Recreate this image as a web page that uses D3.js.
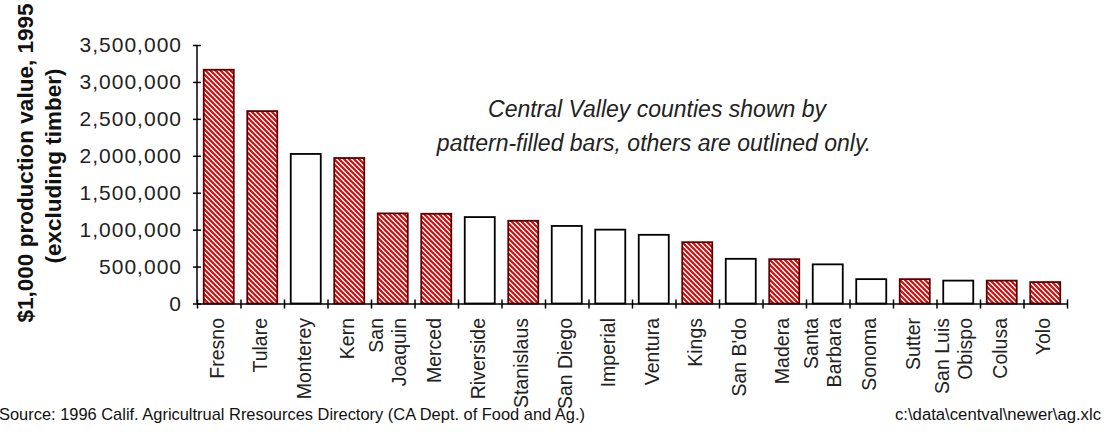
<!DOCTYPE html>
<html>
<head>
<meta charset="utf-8">
<script src="https://cdn.jsdelivr.net/npm/d3@7"></script>
<style>
  body { margin: 0; background: #fff; }
  svg { display: block; font-family: Arial, "Liberation Sans", sans-serif; }
</style>
</head>
<body>
<div id="container"></div>
<script>
const width = 1104;
const height = 432;

// counties, sorted by 1995 production value ($1,000)
const counties = ['Fresno', 'Tulare', 'Monterey', 'Kern', 'San Joaquin', 'Merced', 'Riverside',
  'Stanislaus', 'San Diego', 'Imperial', 'Ventura', 'Kings', "San B'do", 'Madera',
  'Santa Barbara', 'Sonoma', 'Sutter', 'San Luis Obispo', 'Colusa', 'Yolo'];
const values = [3165000, 2605000, 2025000, 1970000, 1220000, 1215000, 1170000,
  1120000, 1050000, 1000000, 930000, 830000, 605000, 600000,
  530000, 330000, 330000, 310000, 310000, 290000];
const centralValley = ['Fresno', 'Tulare', 'Kern', 'San Joaquin', 'Merced', 'Stanislaus',
  'Kings', 'Madera', 'Sutter', 'Colusa', 'Yolo'];
const labelLines = {
  'San Joaquin': ['San', 'Joaquin'],
  'Santa Barbara': ['Santa', 'Barbara'],
  'San Luis Obispo': ['San Luis', 'Obispo']
};
const yTicks = [0, 500000, 1000000, 1500000, 2000000, 2500000, 3000000, 3500000];

const plot = {left: 197, right: 1067, top: 45, bottom: 303.5};

const svg = d3.select('#container').append('svg')
  .attr('width', width)
  .attr('height', height)
  .attr('viewBox', [0, 0, width, height]);

// diagonal hatch for Central Valley counties
const pattern = svg.append('defs').append('pattern')
  .attr('id', 'hatch')
  .attr('patternUnits', 'userSpaceOnUse')
  .attr('width', 5)
  .attr('height', 5);
pattern.append('rect').attr('width', 5).attr('height', 5).attr('fill', '#fff');
pattern.append('path')
  .attr('d', 'M-1,-1L6,6M-1,4L1,6M4,-1L6,1')
  .attr('stroke', '#e00000')
  .attr('stroke-width', 2);

const x = d3.scaleBand()
  .domain(counties)
  .range([plot.left, plot.right])
  .paddingInner(0.31)
  .paddingOuter(0.155);

const y = d3.scaleLinear()
  .domain([0, 3500000])
  .range([plot.bottom, plot.top]);

// bars
svg.append('g')
  .selectAll('rect')
  .data(counties)
  .join('rect')
  .attr('x', d => x(d))
  .attr('y', (d, i) => y(values[i]))
  .attr('width', x.bandwidth())
  .attr('height', (d, i) => y(0) - y(values[i]))
  .attr('fill', d => centralValley.includes(d) ? 'url(#hatch)' : '#fff')
  .attr('stroke', d => centralValley.includes(d) ? '#5a0000' : '#000')
  .attr('stroke-width', 1.8);

// y axis
const yAxis = svg.append('g')
  .attr('transform', `translate(${plot.left},0)`)
  .call(d3.axisLeft(y).tickValues(yTicks).tickFormat(d3.format(',')).tickSize(5).tickPadding(10));
yAxis.selectAll('.tick line').attr('x1', 4).attr('x2', -4).attr('stroke-width', 1.5);
yAxis.select('.domain').attr('d', `M0,${plot.top}V${plot.bottom}`).attr('stroke-width', 1.5);
yAxis.selectAll('.tick text')
  .attr('font-size', 21)
  .attr('letter-spacing', 1)
  .attr('fill', '#222')
  .attr('font-family', 'Arial, "Liberation Sans", sans-serif');

// x axis: ticks on category boundaries
const xb = d3.scaleLinear().domain([0, counties.length]).range([plot.left, plot.right]);
const xAxis = svg.append('g')
  .attr('transform', `translate(0,${plot.bottom})`)
  .call(d3.axisBottom(xb).tickValues(d3.range(0, counties.length + 1)).tickFormat('').tickSizeOuter(0));
xAxis.selectAll('.tick line').attr('y1', -4).attr('y2', 5).attr('stroke-width', 1.5);
xAxis.select('.domain').attr('stroke-width', 1.5);

// category labels, rotated
const labels = svg.append('g')
  .attr('font-size', 19.5)
  .attr('fill', '#222')
  .selectAll('text')
  .data(counties)
  .join('text')
  .attr('transform', d => `translate(${x(d) + x.bandwidth() / 2},318) rotate(-90)`)
  .attr('text-anchor', 'end');
labels.each(function(d) {
  const lines = labelLines[d] || [d];
  const t = d3.select(this);
  if (lines.length === 1) {
    t.append('tspan').attr('x', 0).attr('y', 0).attr('dy', '0.25em').text(lines[0]);
  } else {
    t.append('tspan').attr('x', 0).attr('y', 0).attr('dy', '-0.5em').text(lines[0]);
    t.append('tspan').attr('x', 0).attr('y', 0).attr('dy', '0.7em').text(lines[1]);
  }
});

// y axis title
const title = svg.append('text')
  .attr('transform', 'translate(33,163) rotate(-90)')
  .attr('text-anchor', 'middle')
  .attr('font-size', 22.5)
  .attr('font-weight', 'bold')
  .attr('fill', '#111');
title.append('tspan').attr('x', 0).attr('y', 0).text('$1,000 production value, 1995');
title.append('tspan').attr('x', -3).attr('y', 28).text('(excluding timber)');

// annotation
const note = svg.append('text')
  .attr('text-anchor', 'middle')
  .attr('font-size', 23)
  .attr('font-style', 'italic')
  .attr('fill', '#222');
note.append('tspan').attr('x', 657).attr('y', 117).text('Central Valley counties shown by');
note.append('tspan').attr('x', 654).attr('y', 151).text('pattern-filled bars, others are outlined only.');

// footer
svg.append('text')
  .attr('x', -1)
  .attr('y', 420)
  .attr('font-size', 17)
  .attr('fill', '#111')
  .attr('textLength', 586)
  .attr('lengthAdjust', 'spacingAndGlyphs')
  .text('Source: 1996 Calif. Agricultrual Rresources Directory (CA Dept. of Food and Ag.)');

svg.append('text')
  .attr('x', 895)
  .attr('y', 420)
  .attr('font-size', 16)
  .attr('fill', '#111')
  .attr('textLength', 206)
  .attr('lengthAdjust', 'spacingAndGlyphs')
  .text('c:\\data\\centval\\newer\\ag.xlc');
</script>
</body>
</html>
